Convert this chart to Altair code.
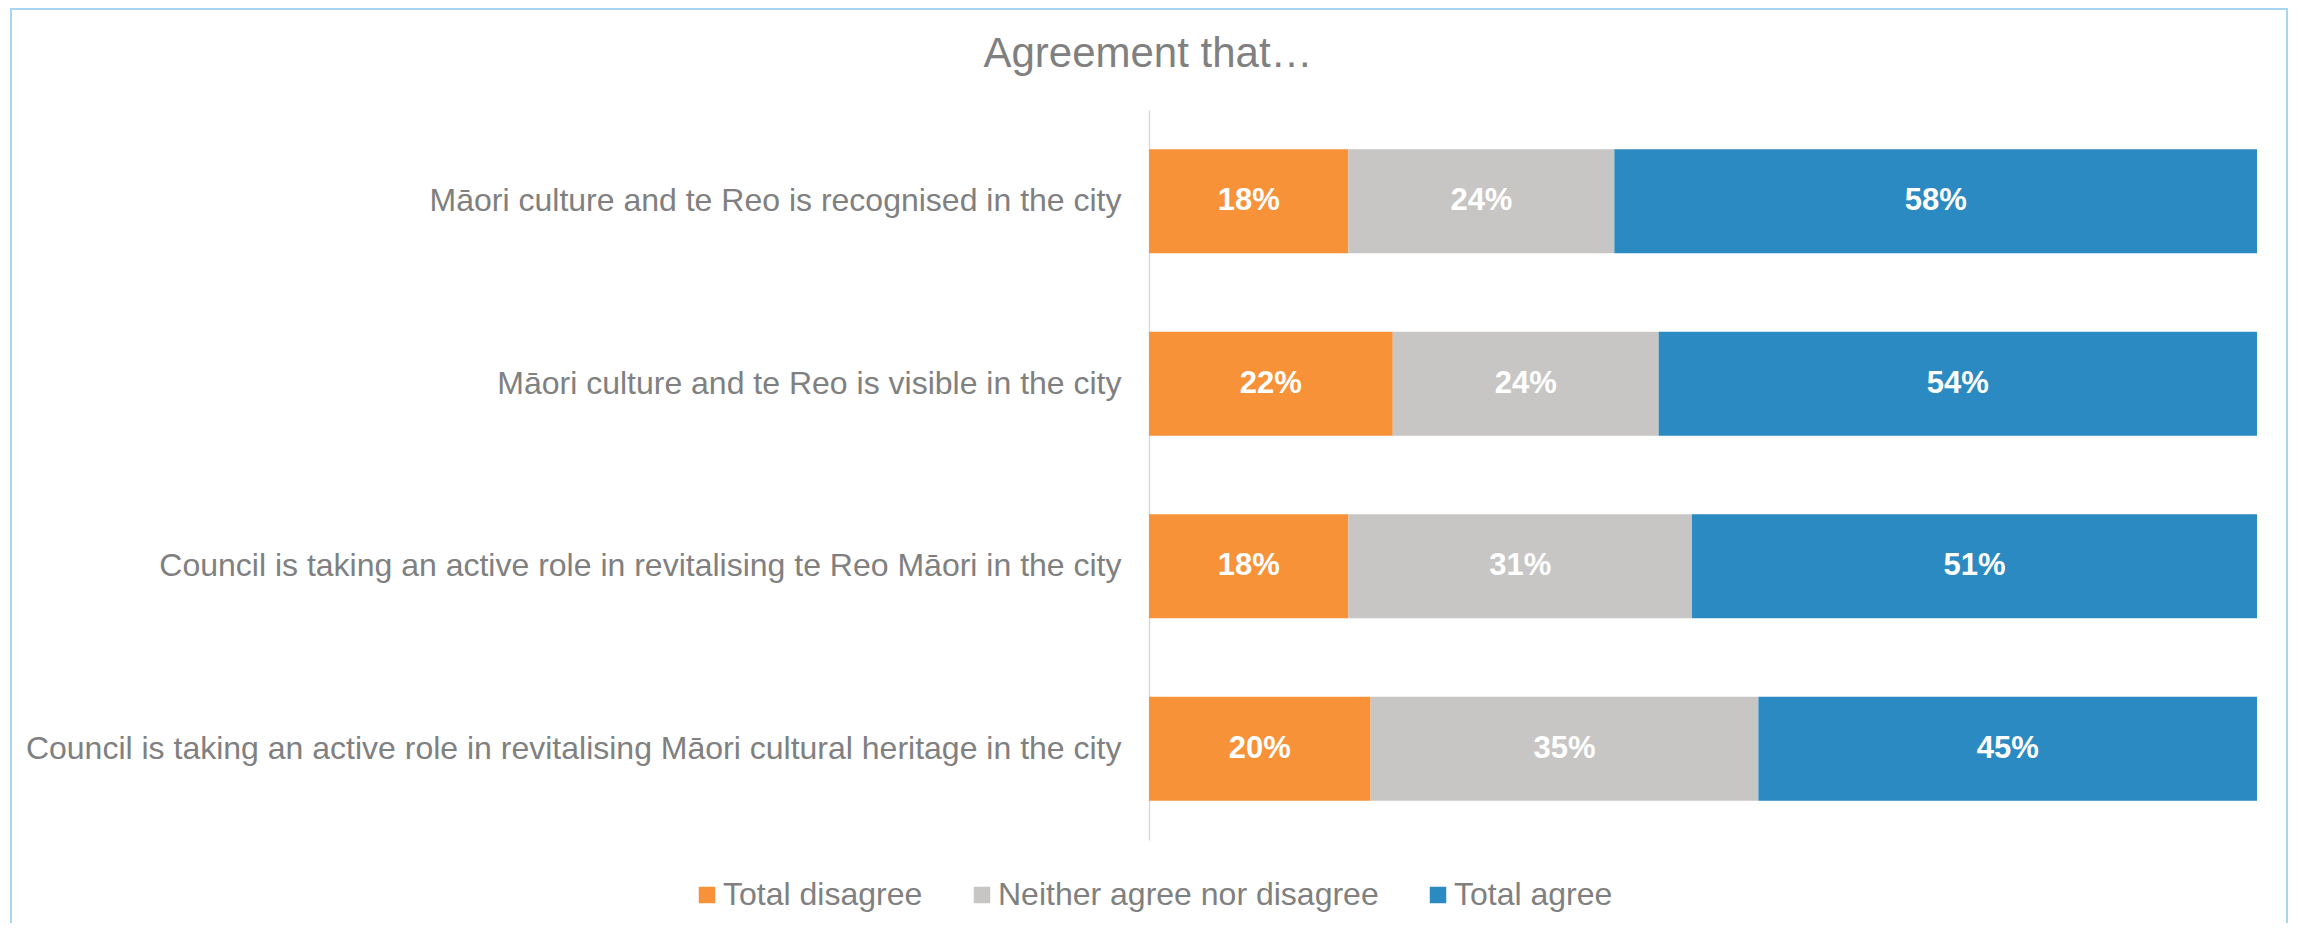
import altair as alt
import pandas as pd

categories = [
    "Māori culture and te Reo is recognised in the city",
    "Māori culture and te Reo is visible in the city",
    "Council is taking an active role in revitalising te Reo Māori in the city",
    "Council is taking an active role in revitalising Māori cultural heritage in the city",
]
series = ["Total disagree", "Neither agree nor disagree", "Total agree"]
disagree = [18, 22, 18, 20]
neither = [24, 24, 31, 35]
agree = [58, 54, 51, 45]
colors = ["#F79239", "#C7C6C4", "#2A8AC1"]

rows = []
for i, cat in enumerate(categories):
    for j, (s, vals) in enumerate(zip(series, [disagree, neither, agree])):
        rows.append({"category": cat, "series": s, "order": j, "value": vals[i],
                     "label": f"{vals[i]}%"})
df = pd.DataFrame(rows)

FONT = "Liberation Sans"
GREY = "#808080"

y_enc = alt.Y("category:N", sort=categories, title=None,
              scale=alt.Scale(paddingInner=0.43, paddingOuter=0.215),
              axis=alt.Axis(labelFontSize=32, labelColor=GREY, labelFont=FONT,
                            labelPadding=28, labelLimit=0, ticks=False,
                            domainColor="#D9D9D9", domainWidth=1.5, grid=False))

bars = alt.Chart(df).mark_bar().encode(
    x=alt.X("value:Q", stack="zero", axis=None, scale=alt.Scale(domain=[0, 100], nice=False)),
    y=y_enc,
    color=alt.Color("series:N", sort=series,
                    scale=alt.Scale(domain=series, range=colors),
                    legend=alt.Legend(orient="none", direction="horizontal", title=None,
                                      legendX=-461, legendY=769,
                                      symbolType="square", symbolSize=272, symbolStrokeWidth=0,
                                      symbolOffset=3,
                                      labelFontSize=32, labelColor=GREY, labelFont=FONT,
                                      labelLimit=0, labelOffset=0, columnPadding=40,
                                      padding=0)),
    order=alt.Order("order:Q"),
)

texts = alt.Chart(df).transform_stack(
    stack="value", groupby=["category"], as_=["v0", "v1"],
    sort=[alt.SortField("order", order="ascending")]
).transform_calculate(
    mid="(datum.v0 + datum.v1) / 2"
).mark_text(color="white", fontSize=31, fontWeight="bold", font=FONT,
            align="center", baseline="middle").encode(
    x=alt.X("mid:Q", scale=alt.Scale(domain=[0, 100], nice=False), axis=None),
    y=alt.Y("category:N", sort=categories),
    text="label:N",
)

border = alt.Chart(pd.DataFrame({"b": [1]})).mark_rect(
    filled=False, stroke="#A8D5F0", strokeWidth=2
).encode(
    x=alt.value(-1138), x2=alt.value(1138), y=alt.value(-101), y2=alt.value(830)
)

chart = alt.layer(bars, texts, border).properties(
    width=1108, height=730,
    autosize=alt.AutoSizeParams(type="none"),
    padding={"left": 1141, "top": 102, "right": 31, "bottom": 83},
    title=alt.TitleParams("Agreement that…", fontSize=42, color=GREY, font=FONT,
                          fontWeight="normal", anchor="middle", frame="group",
                          dx=-555, dy=145, baseline="alphabetic", offset=44),
    background="white",
).configure_view(stroke=None)

chart.save("out.html", embed_options={"renderer": "svg", "actions": False})
